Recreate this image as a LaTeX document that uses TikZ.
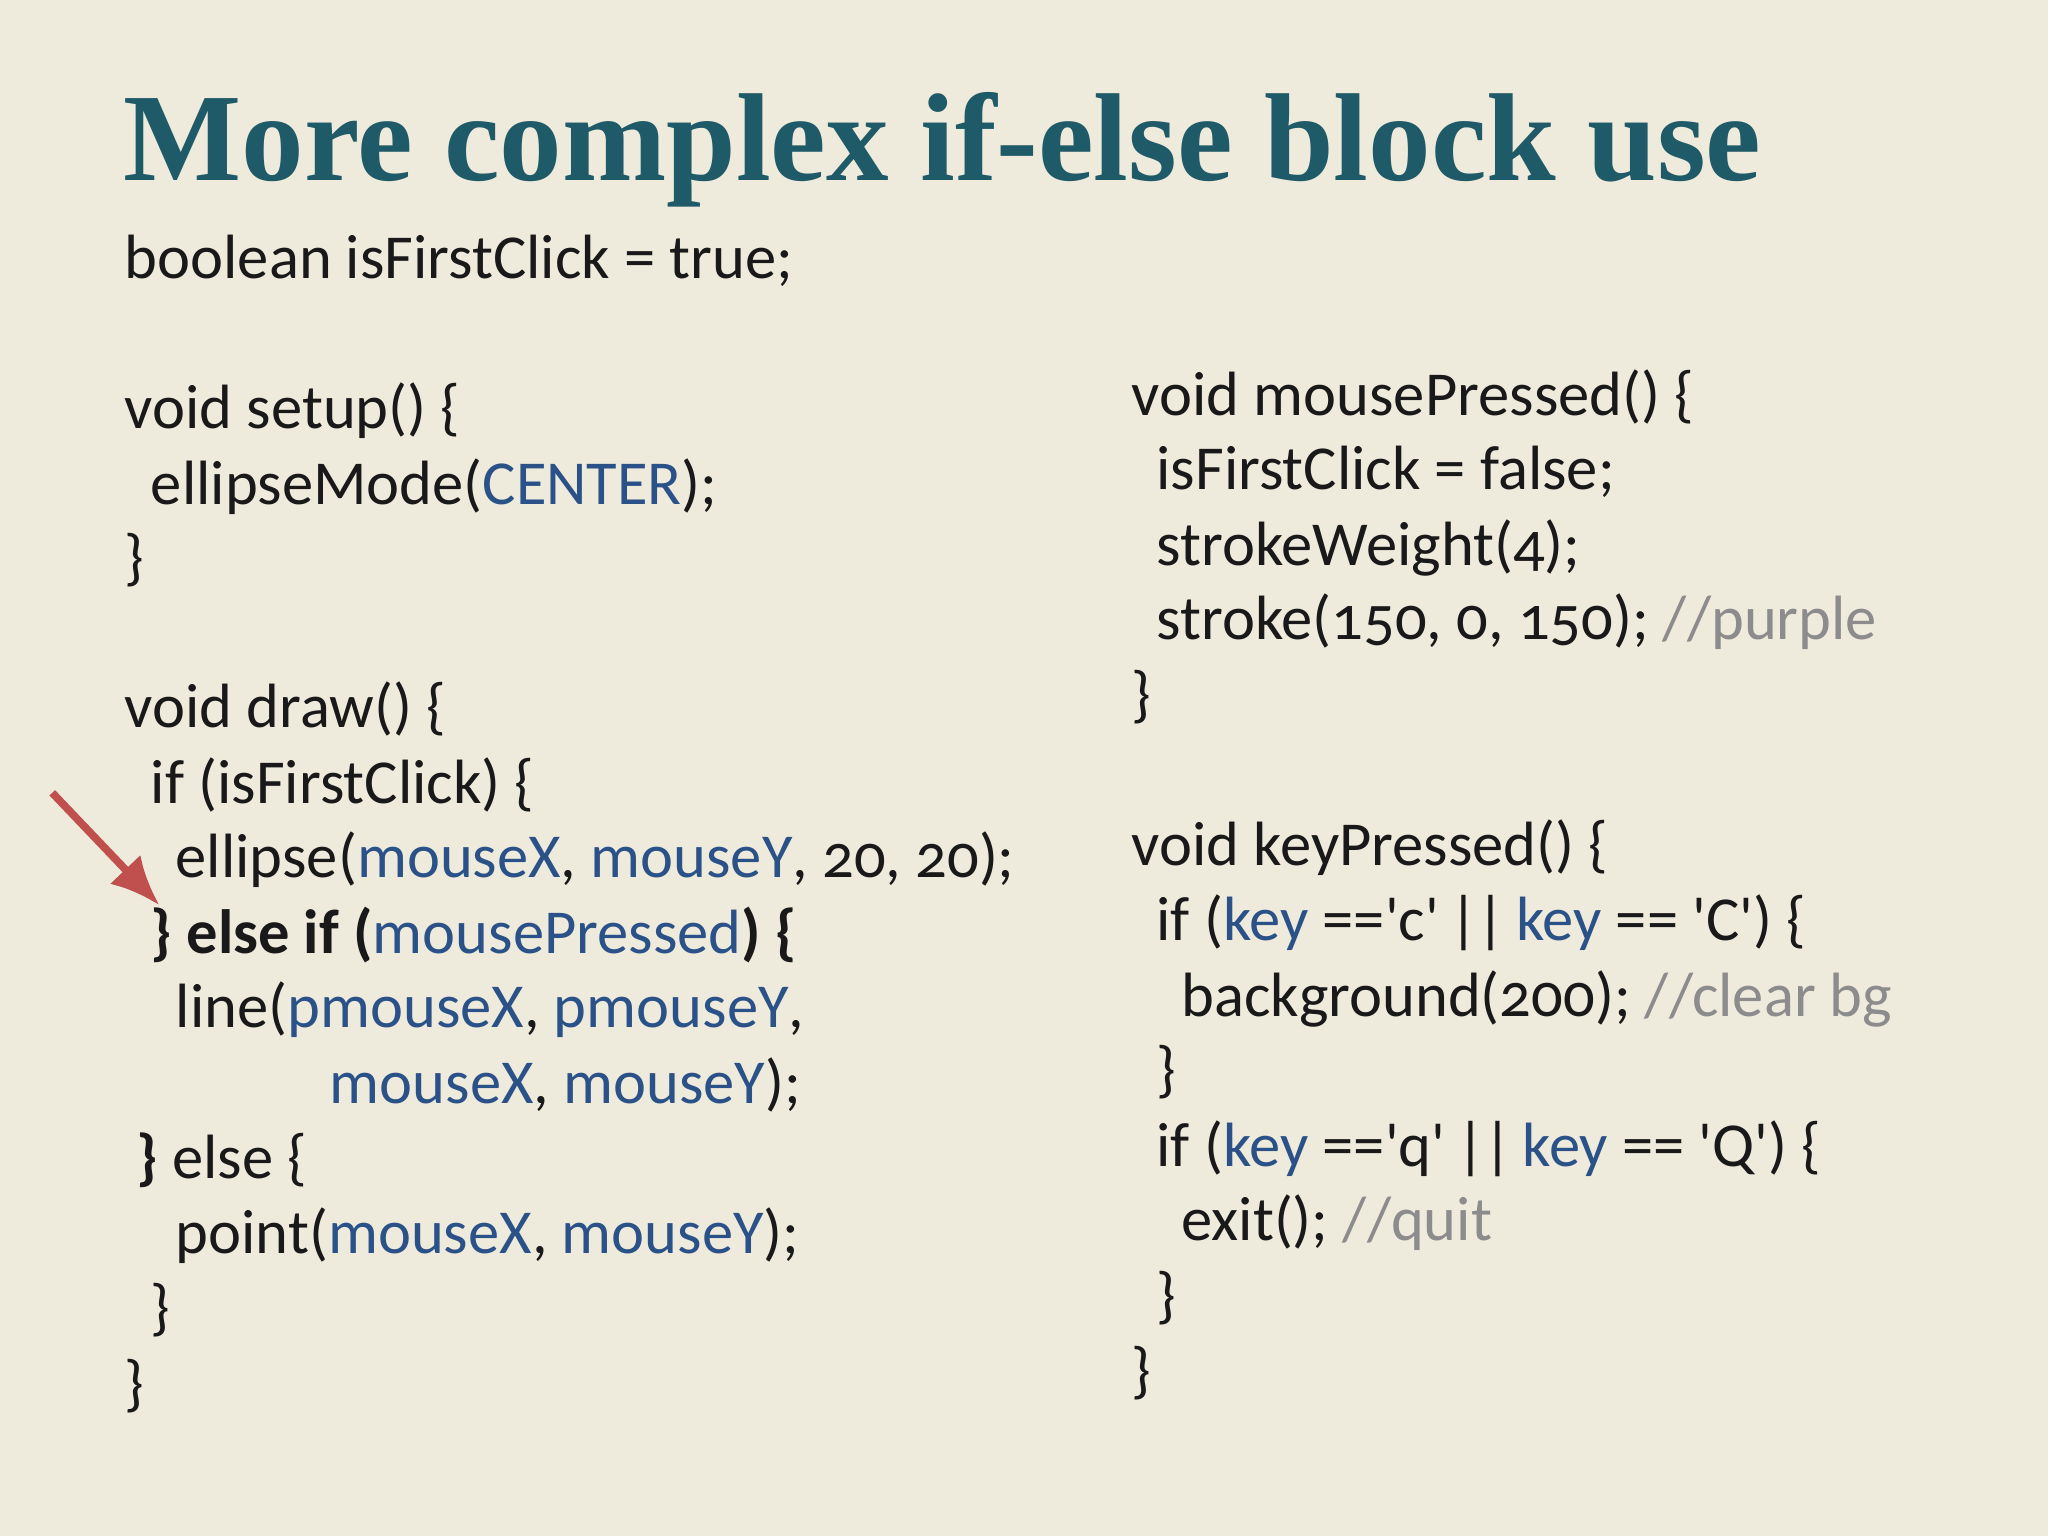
\documentclass[tikz,border=0pt]{standalone}
\usepackage{fontspec}
\usetikzlibrary{arrows.meta}
\setmainfont[Numbers=OldStyle]{Carlito}
\newfontfamily\titlefont{Liberation Serif}
\begin{document}
\begin{tikzpicture}[x=0.013061cm,y=-0.013061cm]
\definecolor{bg}{HTML}{EFEBDC}
\definecolor{ttl}{HTML}{1F5A68}
\definecolor{kw}{HTML}{2B5288}
\definecolor{cm}{HTML}{8C8C8C}
\definecolor{arr}{HTML}{C0504D}
\fill[bg] (0,0) rectangle (1568,1176);
\tikzset{code/.style={anchor=base west,inner sep=0pt,font=\fontsize{17.8pt}{20pt}\selectfont,text=black!90}}
\newcommand{\kb}[1]{\textcolor{kw}{#1}}
\newcommand{\cmt}[1]{\textcolor{cm}{#1}}
\newcommand{\q}{\textquotesingle}
\newcommand{\orr}{\kern-1pt|\kern-0.5pt|\kern-1pt}
\node[anchor=base west,inner sep=0pt,font=\titlefont\bfseries\fontsize{35.6pt}{40pt}\selectfont,text=ttl] (title) at (94,138) {More complex if-else block use};
% left column
\node[code] (a0) at (95,213) {boolean isFirstClick = true;};
\node[code] (a2) at (95,328) {void setup() \{};
\node[code] (a3) at (115,386) {ellipseMode(\kb{CENTER});};
\node[code] (a4) at (95,443) {\}};
\node[code] (a6) at (95,557) {void draw() \{};
\node[code] (a7) at (115,615) {if (isFirstClick) \{};
\node[code] (a8) at (134,672) {ellipse(\kb{mouseX}, \kb{mouseY}, 20, 20);};
\node[code] (a9) at (115,730) {\textbf{\} else if (}\kb{mousePressed}\textbf{) \{}};
\node[code] (a10) at (134,787) {line(\kb{pmouseX}, \kb{pmouseY},};
\node[code] (a11) at (252,845) {\kb{mouseX}, \kb{mouseY});};
\node[code] (a12) at (104,902) {\textbf{\}} else \{};
\node[code] (a13) at (134,960) {point(\kb{mouseX}, \kb{mouseY});};
\node[code] (a14) at (115,1017) {\}};
\node[code] (a15) at (95,1075) {\}};
% right column
\node[code] (b0) at (866,318) {void mousePressed() \{};
\node[code] (b1) at (885,375) {isFirstClick = false;};
\node[code] (b2) at (885,433) {strokeWeight(4);};
\node[code] (b3) at (885,490) {stroke(150, 0, 150); \cmt{//purple}};
\node[code] (b4) at (866,548) {\}};
\node[code] (b6) at (866,663) {void keyPressed() \{};
\node[code] (b7) at (885,720) {if (\kb{key} ==\q c\q\ \orr\ \kb{key} == \q C\q) \{};
\node[code] (b8) at (904,778) {background(200); \cmt{//clear bg}};
\node[code] (b9) at (885,835) {\}};
\node[code] (b10) at (885,893) {if (\kb{key} ==\q q\q\ \orr\ \kb{key} == \q Q\q) \{};
\node[code] (b11) at (904,950) {exit(); \cmt{//quit}};
\node[code] (b12) at (885,1008) {\}};
\node[code] (b13) at (866,1065) {\}};
\coordinate (s) at (40,607);
\coordinate (e) at (122,693);
\draw[arr,line width=2.2pt,-{Latex[length=14pt,width=12pt]}] (s) -- (e);
\end{tikzpicture}
\end{document}
